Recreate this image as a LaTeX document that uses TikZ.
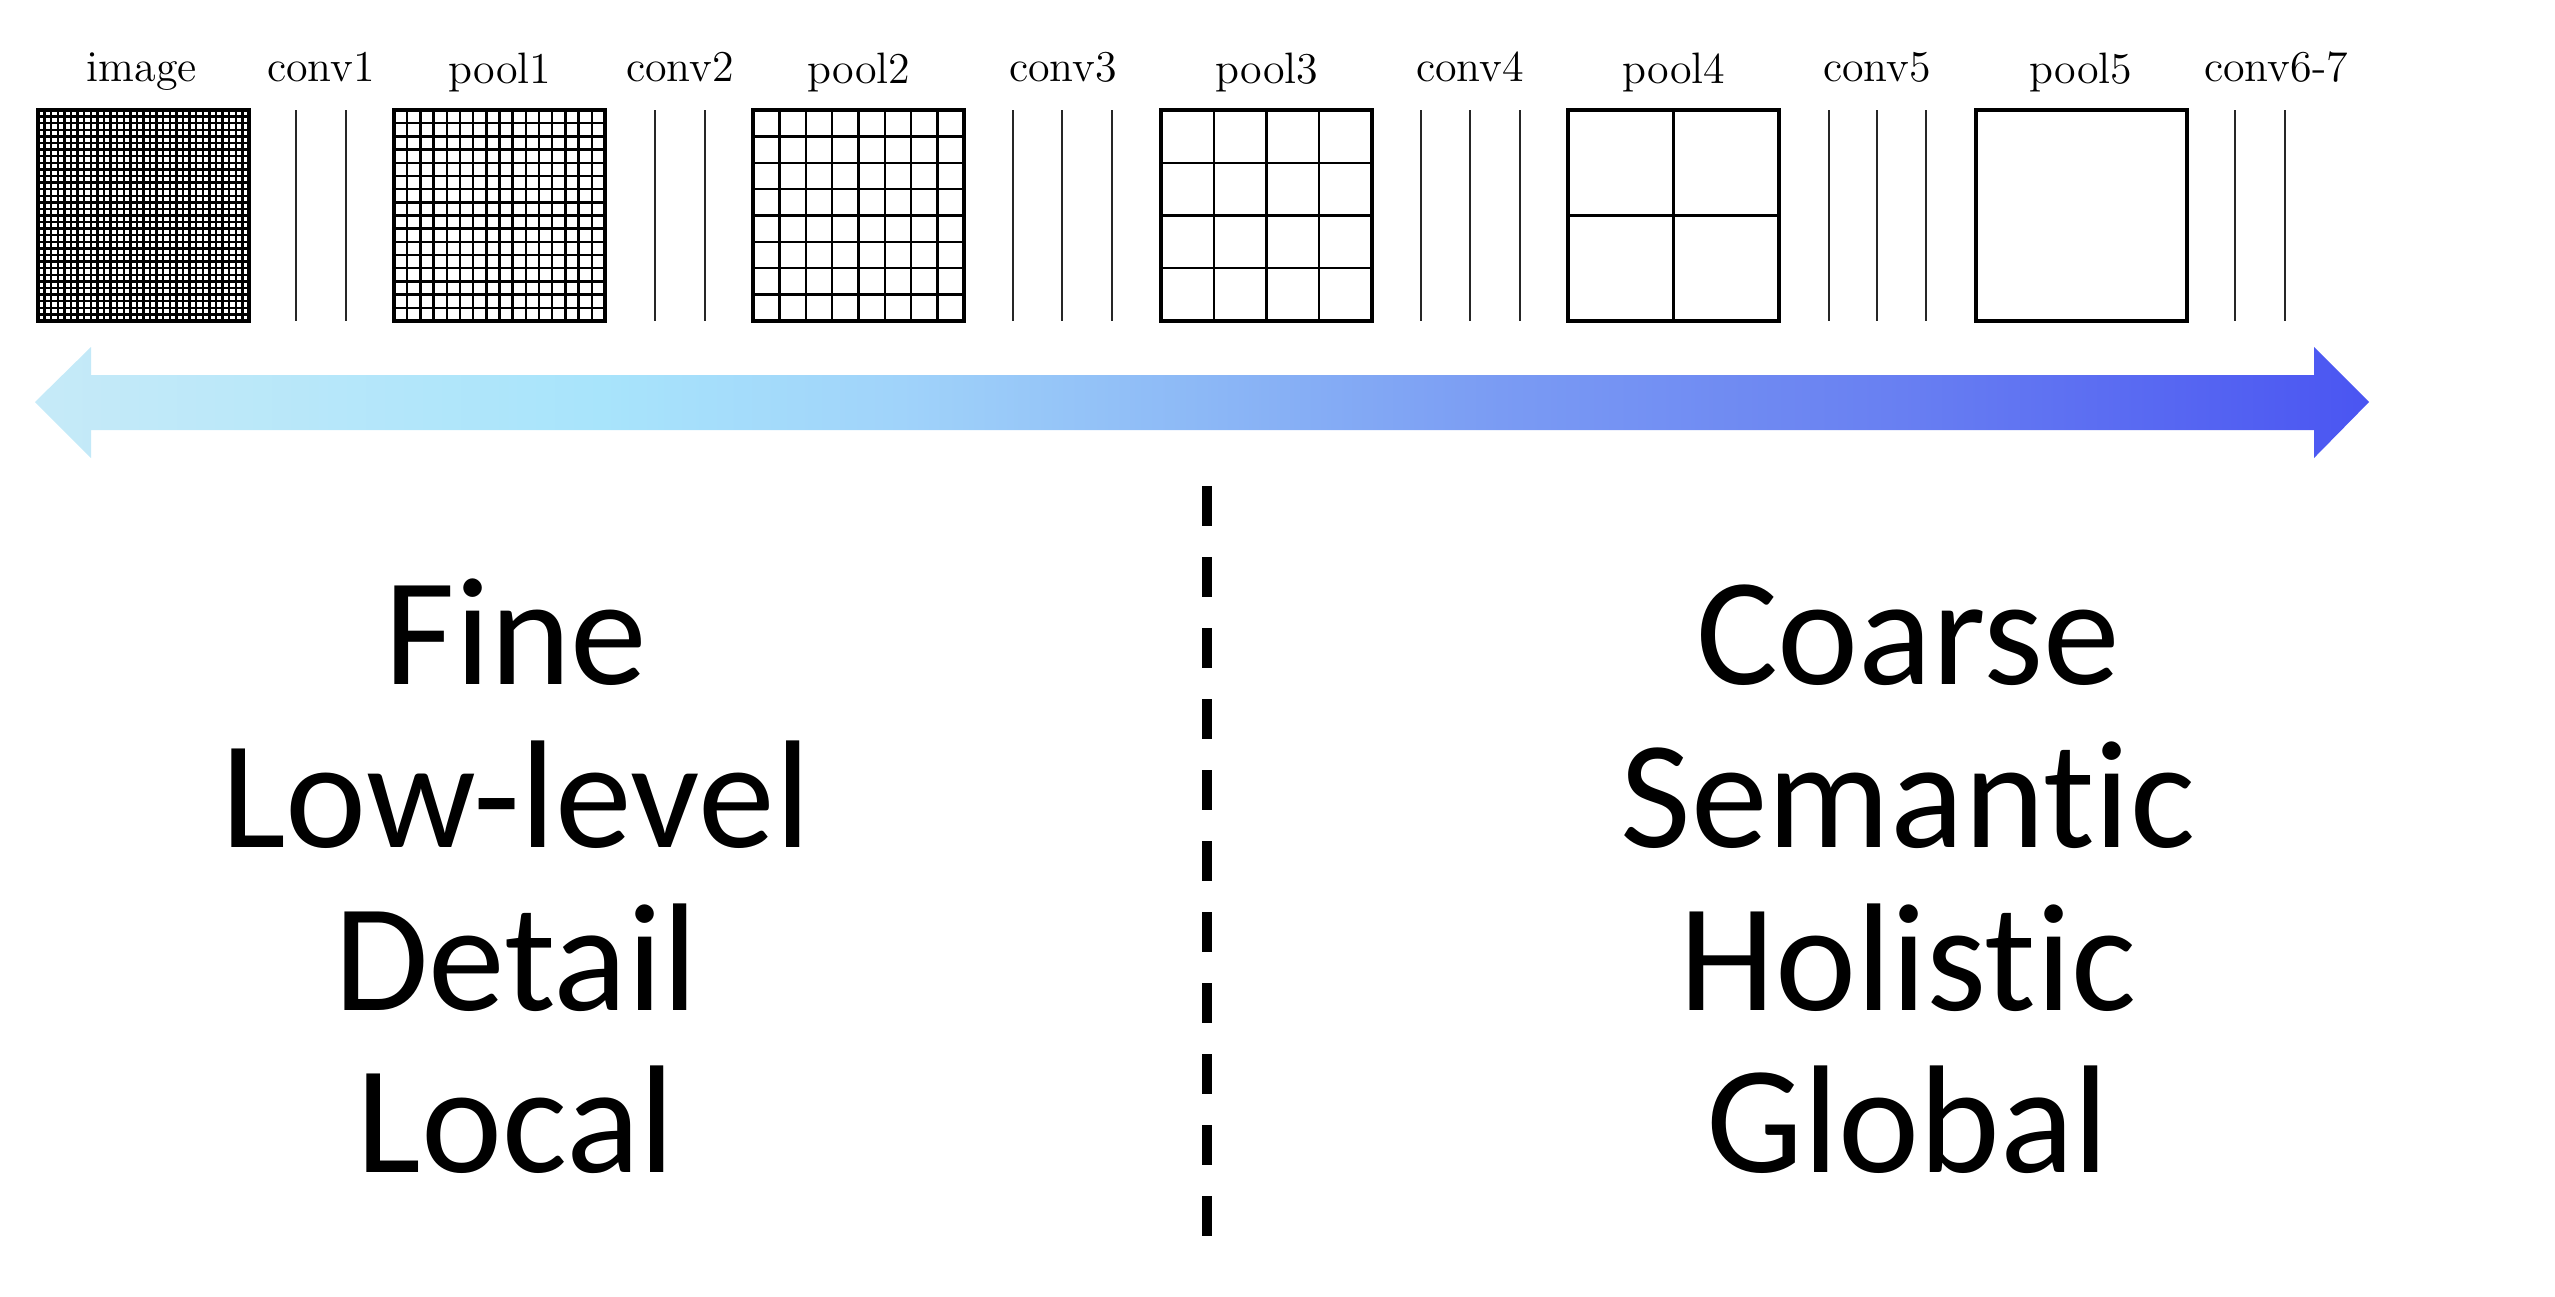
\documentclass[tikz,border=0pt]{standalone}
\usepackage{fontspec}
\newfontfamily\krfont[Ligatures=NoCommon]{Carlito}
\definecolor{ga0}{HTML}{C6EAF8}
\definecolor{ga1}{HTML}{A8E4FB}
\definecolor{ga2}{HTML}{A0D3FA}
\definecolor{ga3}{HTML}{8CB8F6}
\definecolor{ga4}{HTML}{7A9BF3}
\definecolor{ga5}{HTML}{687FF2}
\definecolor{ga6}{HTML}{4A55F2}
\pgfdeclarehorizontalshading{gradarrow}{100bp}{color(0bp)=(ga0); color(25bp)=(ga0); color(37.15bp)=(ga1); color(43.55bp)=(ga2); color(50bp)=(ga3); color(56.4bp)=(ga4); color(65bp)=(ga5); color(75bp)=(ga6); color(100bp)=(ga6)}
\newcommand\featmap[2]{%
  \pgfmathsetmacro\cw{211/#2}%
  \pgfmathtruncatemacro\nm{#2-1}%
  \ifnum#2>1
    \foreach \i in {1,...,\nm}{%
      \draw[gridl] ({#1+\i*\cw},110) -- ++(0,211);
      \draw[gridl] (#1,{110+\i*\cw}) -- ++(211,0);
    }%
  \fi
  \draw[mapframe] (#1,110) rectangle ++(211,211);
}
\begin{document}
\begin{tikzpicture}[x=0.25pt,y=-0.25pt,
  gridl/.style={black,line width=0.6pt},
  mapframe/.style={black,line width=0.8pt},
  convline/.style={black!85,line width=0.55pt},
  lab/.style={anchor=base,inner sep=0pt,font=\fontsize{11}{13}\selectfont},
  bigword/.style={anchor=base,inner sep=0pt,font=\krfont\fontsize{38.4}{40}\selectfont},
  divider/.style={black,line width=2.5pt,dash pattern=on 10pt off 7.75pt}]
\useasboundingbox (0,0) rectangle (2555,1296);
% feature maps
\featmap{38}{32}
\featmap{394}{16}
\featmap{753}{8}
\featmap{1161}{4}
\featmap{1568}{2}
\featmap{1976}{1}
% conv layers
\foreach \x in {296,346,655,705,1013,1062,1112,1421,1470,1520,1829,1877,1926,2235,2285}
  \draw[convline] (\x,110) -- (\x,321);
% labels
\node[lab] (Limage) at (142,81) {image};
\node[lab] (Lconv1) at (321,81) {conv1};
\node[lab] (Lpool1) at (500,83) {pool1};
\node[lab] (Lconv2) at (680,81) {conv2};
\node[lab] (Lpool2) at (859,83) {pool2};
\node[lab] (Lconv3) at (1063,81) {conv3};
\node[lab] (Lpool3) at (1267,83) {pool3};
\node[lab] (Lconv4) at (1470,81) {conv4};
\node[lab] (Lpool4) at (1674,83) {pool4};
\node[lab] (Lconv5) at (1877,81) {conv5};
\node[lab] (Lpool5) at (2081,83) {pool5};
\node[lab] (Lconv67) at (2276,81) {conv6-7};
% gradient double arrow
\shade[shading=gradarrow] (35,402) -- (91,347) -- (91,375) -- (2314,375) -- (2314,347)
  -- (2369,402) -- (2314,458) -- (2314,430) -- (91,430) -- (91,458) -- cycle;
% divider
\coordinate (dtop) at (1207,486);
\coordinate (dbot) at (1207,1238);
\draw[divider] (dtop) -- (dbot);
% words
\node[bigword] (w1) at (516,684) {Fine};
\node[bigword] (w2) at (516,847) {Low-level};
\node[bigword] (w3) at (516,1010) {Detail};
\node[bigword] (w4) at (516,1172) {Local};
\node[bigword] (w5) at (1908,684) {Coarse};
\node[bigword] (w6) at (1908,847) {Semantic};
\node[bigword] (w7) at (1908,1010) {Holistic};
\node[bigword] (w8) at (1908,1172) {Global};
\end{tikzpicture}
\end{document}
